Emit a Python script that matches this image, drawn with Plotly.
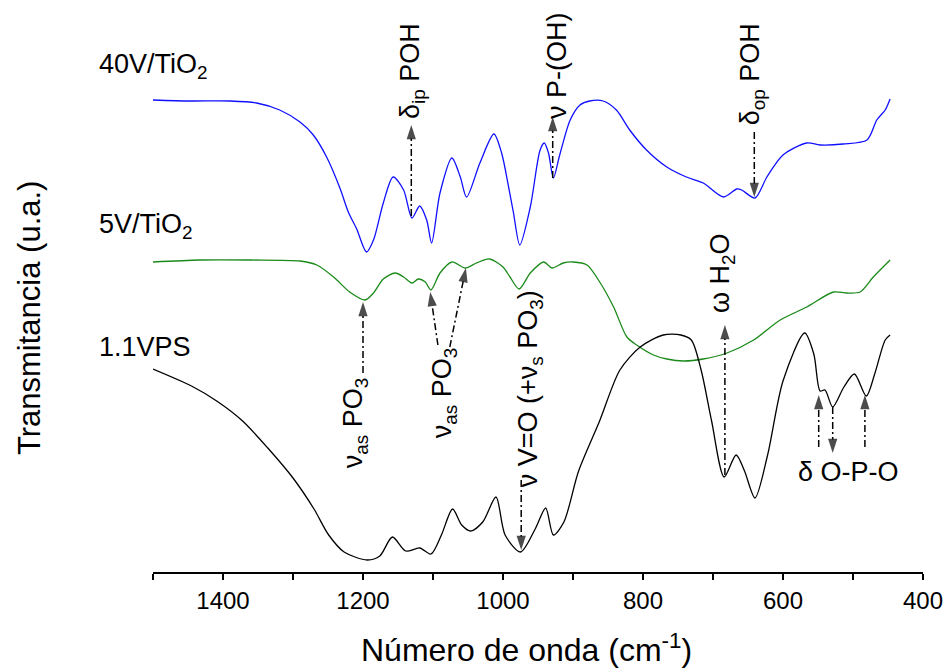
import plotly.graph_objects as go

# FTIR spectra: wavenumber (cm-1) and transmittance (a.u., stacked with offsets)
wn_40v = [1500, 1447, 1390, 1352, 1319, 1290, 1271, 1252, 1233, 1221, 1209, 1195, 1185,
          1171, 1157, 1142, 1130, 1119, 1109, 1102, 1090, 1073, 1061, 1052, 1033, 1013,
          1002, 992, 985, 976, 961, 947, 941, 935, 928, 919, 904, 890, 876, 857, 838, 819,
          795, 766, 738, 714, 685, 666, 659, 640, 623, 600, 566, 547, 514, 480, 466, 454, 447]
t_40v = [4.72, 4.71, 4.71, 4.69, 4.62, 4.50, 4.37, 4.15, 3.84, 3.60, 3.43, 3.20, 3.32,
         3.69, 3.95, 3.82, 3.54, 3.66, 3.52, 3.29, 3.79, 4.14, 3.95, 3.75, 4.09, 4.38,
         4.19, 3.85, 3.59, 3.27, 3.65, 4.22, 4.29, 4.19, 3.94, 4.17, 4.52, 4.67, 4.71,
         4.71, 4.62, 4.42, 4.22, 4.05, 3.95, 3.89, 3.75, 3.83, 3.82, 3.74, 3.95, 4.17,
         4.29, 4.27, 4.28, 4.32, 4.52, 4.62, 4.73]

wn_5v = [1500, 1433, 1361, 1290, 1266, 1242, 1219, 1197, 1185, 1171, 1154, 1142, 1130,
         1121, 1111, 1103, 1090, 1073, 1054, 1038, 1019, 1000, 990, 977, 961, 942, 930,
         914, 900, 880, 861, 842, 823, 809, 785, 766, 742, 714, 680, 642, 604, 566, 528,
         509, 490, 471, 447]
t_5v = [3.10, 3.12, 3.12, 3.11, 3.07, 2.95, 2.80, 2.72, 2.79, 2.93, 2.99, 2.95, 2.89,
        2.93, 2.90, 2.82, 2.99, 3.10, 3.04, 3.09, 3.13, 3.05, 2.95, 2.83, 2.99, 3.10,
        3.04, 3.09, 3.10, 3.07, 2.89, 2.65, 2.35, 2.27, 2.17, 2.13, 2.11, 2.13, 2.19,
        2.32, 2.52, 2.65, 2.80, 2.79, 2.80, 2.95, 3.12]

wn_vps = [1500, 1445, 1409, 1372, 1336, 1300, 1270, 1249, 1227, 1194, 1176, 1158, 1139,
          1119, 1103, 1088, 1072, 1059, 1046, 1029, 1010, 997, 975, 954, 939, 928, 913,
          892, 862, 833, 804, 771, 746, 731, 717, 702, 684, 667, 655, 640, 622, 600, 569,
          556, 547, 540, 529, 513, 498, 481, 469, 454, 447]
t_vps = [2.03, 1.86, 1.71, 1.51, 1.24, 0.94, 0.63, 0.37, 0.20, 0.12, 0.16, 0.35, 0.21,
         0.24, 0.18, 0.37, 0.63, 0.47, 0.41, 0.50, 0.75, 0.37, 0.20, 0.43, 0.64, 0.37,
         0.50, 1.01, 1.51, 2.02, 2.25, 2.37, 2.37, 2.32, 2.02, 1.51, 0.95, 1.17, 1.01,
         0.74, 1.17, 1.91, 2.39, 2.18, 1.81, 1.82, 1.65, 1.85, 1.98, 1.76, 1.98, 2.32, 2.37]

tick_vals = [1500, 1400, 1300, 1200, 1100, 1000, 900, 800, 700, 600, 500, 400]
tick_text = ["", "1400", "", "1200", "", "1000", "", "800", "", "600", "", "400"]

sample_names = ["40V/TiO<sub>2</sub>", "5V/TiO<sub>2</sub>", "1.1VPS"]

# Band-assignment pointers: (x_tail, y_tail, x_head, y_head)
band_arrows = [
    (1131, 3.56, 1131, 4.47),   # delta_ip POH
    (929, 3.94, 929, 4.55),     # nu P-(OH)
    (641, 4.40, 641, 3.75),     # delta_op POH
    (1200, 1.99, 1200, 2.70),   # nu_as PO3
    (1093, 2.27, 1104, 2.80),   # nu_as PO3
    (1076, 2.25, 1053, 3.04),   # nu_as PO3
    (974, 0.92, 974, 0.22),     # nu V=O
    (683, 0.97, 683, 2.47),     # omega H2O
    (549, 1.25, 549, 1.77),     # delta O-P-O
    (529, 1.65, 529, 1.19),     # delta O-P-O
    (483, 1.25, 483, 1.77),     # delta O-P-O
]

FONT = "Arial, Liberation Sans, sans-serif"
Y_MAX = 5.72

fig = go.Figure()

for wn, t, color in [(wn_40v, t_40v, "#1010ff"),
                     (wn_5v, t_5v, "#1a8a1a"),
                     (wn_vps, t_vps, "#000000")]:
    fig.add_trace(go.Scatter(x=wn, y=t, mode="lines",
                             line=dict(color=color, width=1.3, shape="spline", smoothing=0.8),
                             hoverinfo="skip", showlegend=False))

for x0, y0, x1, y1 in band_arrows:
    fig.add_trace(go.Scatter(x=[x0, x1], y=[y0, y1], mode="lines+markers",
                             line=dict(color="black", width=1.5, dash="7px,3px,2px,3px"),
                             marker=dict(symbol="arrow", size=[0, 15], angleref="previous",
                                         color="black", line=dict(width=0)),
                             hoverinfo="skip", showlegend=False))

annotations = []

# sample labels, placed left of the plotting area (paper coordinates)
for text, y in zip(sample_names, [5.06, 3.46, 2.25]):
    annotations.append(dict(text=text, x=-0.073, y=y / Y_MAX, xref="paper", yref="paper",
                            showarrow=False, xanchor="left", yanchor="middle",
                            font=dict(family=FONT, size=27, color="black")))

# band assignments (rotated)
for text, x, y in [("δ<sub>ip</sub> POH", 1130, 5.01),
                   ("ν P-(OH)", 923, 5.06),
                   ("δ<sub>op</sub> POH", 644, 4.98),
                   ("ν<sub>as</sub> PO<sub>3</sub>", 1211, 1.49),
                   ("ν<sub>as</sub> PO<sub>3</sub>", 1084, 1.79),
                   ("ν V=O (+ν<sub>s</sub> PO<sub>3</sub>)", 961, 1.83),
                   ("ω H<sub>2</sub>O", 687, 2.99)]:
    annotations.append(dict(text=text, x=x, y=y, xref="x", yref="y", showarrow=False,
                            textangle=-90, xanchor="center", yanchor="middle",
                            font=dict(family=FONT, size=27, color="black")))

annotations.append(dict(text="δ O-P-O", x=507, y=1.00, xref="x", yref="y", showarrow=False,
                        xanchor="center", yanchor="middle",
                        font=dict(family=FONT, size=27, color="black")))

# axis titles
annotations.append(dict(text="Número de onda (cm<sup>-1</sup>)", x=0.4857, y=-0.133,
                        xref="paper", yref="paper", showarrow=False,
                        xanchor="center", yanchor="middle",
                        font=dict(family=FONT, size=32, color="black")))
annotations.append(dict(text="Transmitancia (u.a.)", x=-0.161, y=0.444,
                        xref="paper", yref="paper", showarrow=False, textangle=-90,
                        xanchor="center", yanchor="middle",
                        font=dict(family=FONT, size=31, color="black")))

fig.update_layout(
    width=952, height=668,
    margin=dict(l=153, r=29, t=0, b=96),
    paper_bgcolor="white", plot_bgcolor="white",
    annotations=annotations,
    xaxis=dict(range=[1500, 400], showline=True, linewidth=2, linecolor="black",
               ticks="outside", ticklen=6, tickwidth=1.5, tickcolor="black",
               tickvals=tick_vals, ticktext=tick_text, ticklabelstandoff=0,
               tickfont=dict(family=FONT, size=24, color="black"),
               showgrid=False, zeroline=False),
    yaxis=dict(range=[0, Y_MAX], visible=False),
)

fig.write_html("out.html")
